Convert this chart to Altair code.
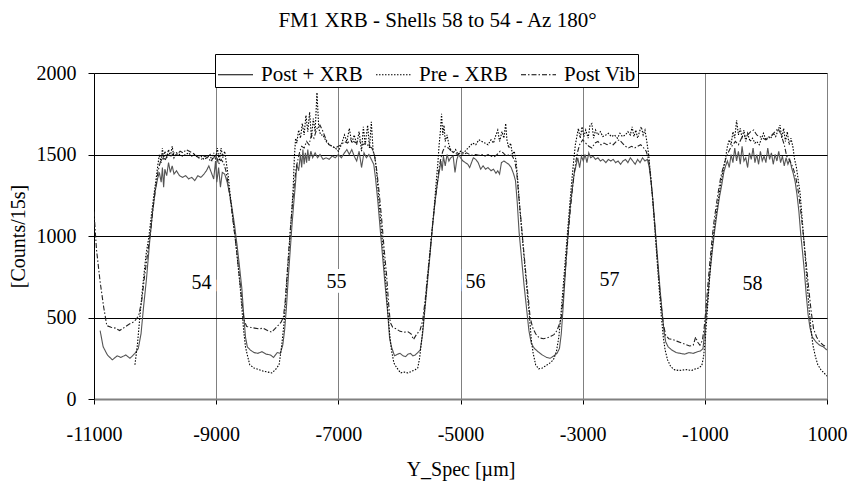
import altair as alt
import pandas as pd

TITLE = "FM1 XRB - Shells 58 to 54 - Az 180°"
X_TITLE = "Y_Spec [µm]"
Y_TITLE = "[Counts/15s]"
series_names = ["Post + XRB", "Pre - XRB", "Post Vib"]
series_colors = ["#555555", "#000000", "#222222"]
series_dashes = [[1, 0], [1.5, 1.5], [5, 2, 1.5, 2]]

x_ticks = [-11000, -9000, -7000, -5000, -3000, -1000, 1000]
y_ticks = [0, 500, 1000, 1500, 2000]

post_xrb_x = [-10900, -10850, -10780, -10700, -10620, -10560, -10480, -10410, -10330, -10275, -10230, -10190, -10140, -10090, -10040, -10000, -9960, -9930, -9900, -9880, -9860, -9840, -9810, -9780, -9750, -9720, -9690, -9650, -9600, -9550, -9500, -9450, -9400, -9350, -9300, -9250, -9200, -9160, -9120, -9080, -9040, -9010, -8990, -8960, -8930, -8900, -8860, -8820, -8780, -8740, -8700, -8660, -8620, -8580, -8550, -8520, -8490, -8440, -8380, -8320, -8250, -8180, -8110, -8060, -8000, -7950, -7910, -7880, -7850, -7820, -7790, -7760, -7730, -7700, -7680, -7650, -7620, -7600, -7580, -7560, -7540, -7520, -7500, -7480, -7450, -7420, -7380, -7340, -7300, -7250, -7200, -7150, -7100, -7050, -7000, -6950, -6900, -6860, -6820, -6780, -6740, -6700, -6660, -6620, -6580, -6540, -6500, -6460, -6420, -6390, -6350, -6310, -6270, -6230, -6190, -6160, -6130, -6080, -6030, -5990, -5940, -5900, -5860, -5820, -5780, -5740, -5700, -5660, -5620, -5580, -5540, -5500, -5460, -5420, -5380, -5350, -5320, -5300, -5280, -5250, -5220, -5190, -5160, -5120, -5090, -5060, -5030, -5000, -4960, -4920, -4880, -4850, -4820, -4790, -4750, -4710, -4670, -4630, -4590, -4550, -4500, -4460, -4420, -4390, -4360, -4330, -4290, -4250, -4210, -4170, -4130, -4100, -4070, -4040, -4000, -3960, -3920, -3880, -3840, -3790, -3730, -3660, -3590, -3530, -3470, -3420, -3380, -3350, -3320, -3290, -3260, -3230, -3200, -3170, -3140, -3110, -3080, -3050, -3020, -2990, -2960, -2930, -2900, -2870, -2830, -2790, -2750, -2710, -2670, -2620, -2580, -2540, -2500, -2460, -2420, -2380, -2340, -2300, -2260, -2220, -2180, -2140, -2100, -2060, -2020, -1980, -1940, -1910, -1880, -1850, -1820, -1790, -1760, -1730, -1700, -1670, -1640, -1600, -1540, -1470, -1400, -1330, -1260, -1190, -1120, -1070, -1030, -1000, -960, -920, -880, -840, -800, -760, -720, -690, -660, -630, -600, -570, -540, -510, -480, -450, -420, -390, -360, -330, -300, -270, -240, -210, -180, -150, -120, -90, -60, -30, 0, 30, 60, 90, 120, 150, 180, 210, 240, 270, 300, 330, 360, 390, 420, 450, 480, 510, 540, 570, 600, 630, 660, 690, 720, 760, 820, 880, 940, 1000]
post_xrb_y = [420, 320, 270, 240, 265, 255, 270, 250, 280, 310, 400, 560, 740, 960, 1150, 1270, 1350, 1390, 1330, 1420, 1300, 1410, 1370, 1450, 1390, 1430, 1380, 1400, 1370, 1360, 1370, 1350, 1360, 1340, 1370, 1360, 1380, 1400, 1430, 1390, 1350, 1460, 1330, 1420, 1300, 1390, 1380, 1330, 1260, 1170, 1070, 950, 820, 680, 520, 380, 320, 300, 285, 280, 290, 275, 270, 255, 285, 280, 330, 420, 560, 740, 900, 1060, 1200, 1330, 1440, 1400, 1500, 1420, 1530, 1440, 1510, 1450, 1530, 1460, 1520, 1480, 1510, 1480, 1500, 1470, 1480, 1470, 1490, 1480, 1500, 1480, 1510, 1530, 1500, 1530, 1490, 1460, 1520, 1420, 1510, 1480, 1500, 1470, 1440, 1350, 1200, 1020, 850, 680, 520, 370, 320, 265, 275, 280, 265, 260, 275, 280, 265, 270, 285, 300, 400, 560, 720, 880, 1050, 1200, 1320, 1390, 1460, 1400, 1490, 1430, 1500, 1460, 1480, 1490, 1390, 1470, 1500, 1480, 1460, 1450, 1440, 1420, 1450, 1480, 1470, 1450, 1410, 1430, 1410, 1420, 1400, 1410, 1385, 1400, 1380, 1450, 1460, 1450, 1440, 1420, 1380, 1340, 1200, 1020, 860, 700, 560, 420, 340, 310, 290, 270, 255, 250, 265, 280, 310, 400, 560, 740, 910, 1060, 1190, 1290, 1380, 1430, 1480, 1420, 1490, 1460, 1500, 1450, 1510, 1480, 1490, 1470, 1480, 1460, 1470, 1450, 1470, 1460, 1470, 1450, 1460, 1440, 1460, 1470, 1450, 1480, 1460, 1440, 1470, 1450, 1480, 1460, 1470, 1420, 1330, 1220, 1080, 940, 800, 660, 540, 420, 350, 320, 300, 285, 280, 275, 285, 280, 290, 295, 310, 420, 580, 760, 900, 1030, 1140, 1240, 1320, 1390, 1430, 1460, 1420, 1500, 1450, 1540, 1460, 1520, 1440, 1550, 1460, 1480, 1420, 1510, 1470, 1540, 1450, 1500, 1440, 1520, 1460, 1490, 1450, 1540, 1470, 1510, 1440, 1500, 1460, 1520, 1450, 1490, 1430, 1480, 1440, 1470, 1420, 1380, 1330, 1250, 1150, 1010, 900, 780, 640, 520, 440, 380, 350, 330, 320, 300]

pre_xrb_x = [-10330, -10290, -10250, -10200, -10150, -10100, -10060, -10020, -9990, -9960, -9930, -9900, -9880, -9860, -9840, -9810, -9780, -9750, -9720, -9690, -9650, -9600, -9550, -9500, -9450, -9400, -9350, -9300, -9250, -9200, -9150, -9100, -9070, -9040, -9010, -8980, -8950, -8920, -8890, -8860, -8830, -8800, -8770, -8730, -8690, -8650, -8610, -8580, -8550, -8520, -8490, -8450, -8380, -8300, -8220, -8150, -8090, -8030, -7970, -7930, -7890, -7860, -7830, -7800, -7770, -7740, -7720, -7700, -7680, -7650, -7620, -7590, -7560, -7530, -7500, -7470, -7440, -7410, -7380, -7350, -7320, -7290, -7250, -7200, -7150, -7100, -7050, -7000, -6950, -6900, -6860, -6820, -6780, -6740, -6700, -6660, -6620, -6590, -6560, -6520, -6490, -6460, -6430, -6400, -6370, -6340, -6300, -6260, -6220, -6190, -6160, -6130, -6090, -6040, -5980, -5920, -5860, -5800, -5740, -5700, -5670, -5630, -5590, -5550, -5510, -5470, -5430, -5400, -5370, -5350, -5330, -5310, -5290, -5270, -5250, -5220, -5190, -5160, -5120, -5080, -5040, -5000, -4950, -4900, -4850, -4800, -4750, -4700, -4650, -4600, -4550, -4500, -4460, -4420, -4390, -4360, -4320, -4290, -4260, -4240, -4210, -4180, -4150, -4120, -4090, -4060, -4030, -3990, -3950, -3910, -3870, -3840, -3810, -3770, -3720, -3660, -3600, -3540, -3480, -3430, -3390, -3360, -3330, -3300, -3270, -3240, -3210, -3180, -3150, -3120, -3090, -3070, -3040, -3010, -2980, -2950, -2910, -2880, -2850, -2820, -2790, -2750, -2710, -2670, -2620, -2580, -2530, -2480, -2430, -2390, -2350, -2300, -2260, -2220, -2190, -2160, -2130, -2100, -2070, -2040, -2010, -1980, -1950, -1920, -1890, -1860, -1830, -1800, -1770, -1740, -1710, -1680, -1650, -1610, -1560, -1500, -1430, -1360, -1290, -1220, -1150, -1100, -1050, -1020, -990, -960, -930, -900, -860, -820, -780, -740, -700, -660, -630, -600, -570, -540, -510, -480, -450, -420, -390, -360, -330, -300, -260, -220, -180, -150, -110, -70, -40, 0, 40, 80, 120, 160, 200, 230, 260, 290, 320, 350, 380, 410, 440, 470, 500, 530, 560, 590, 620, 650, 680, 710, 740, 770, 810, 850, 900, 950, 1000]
pre_xrb_y = [210, 330, 500, 700, 880, 1000, 1130, 1250, 1330, 1420, 1500, 1450, 1540, 1470, 1520, 1480, 1530, 1490, 1550, 1480, 1510, 1500, 1490, 1500, 1510, 1490, 1500, 1480, 1490, 1470, 1480, 1500, 1460, 1510, 1470, 1540, 1460, 1540, 1480, 1520, 1440, 1360, 1250, 1120, 990, 850, 700, 560, 420, 320, 270, 210, 190, 180, 170, 165, 160, 180, 210, 320, 460, 620, 790, 950, 1110, 1290, 1480, 1600, 1570, 1650, 1600, 1690, 1620, 1740, 1640, 1760, 1600, 1720, 1640, 1880, 1660, 1620, 1620, 1580, 1560, 1550, 1540, 1520, 1560, 1620, 1580, 1660, 1570, 1620, 1560, 1640, 1520, 1670, 1560, 1680, 1540, 1700, 1520, 1480, 1380, 1240, 1060, 880, 700, 540, 400, 300, 220, 190, 160, 165, 160, 170, 180, 190, 250, 380, 540, 700, 860, 1020, 1180, 1320, 1450, 1560, 1640, 1750, 1620, 1680, 1580, 1620, 1560, 1530, 1510, 1530, 1500, 1520, 1510, 1530, 1550, 1570, 1560, 1590, 1580, 1570, 1560, 1590, 1570, 1620, 1650, 1580, 1640, 1600, 1690, 1590, 1540, 1570, 1500, 1520, 1460, 1330, 1170, 1000, 830, 660, 500, 360, 280, 210, 185, 190, 205, 220, 240, 290, 380, 500, 640, 780, 920, 1060, 1200, 1330, 1450, 1560, 1620, 1660, 1600, 1670, 1610, 1650, 1600, 1680, 1690, 1600, 1650, 1620, 1640, 1610, 1620, 1630, 1610, 1620, 1600, 1630, 1610, 1620, 1640, 1620, 1670, 1610, 1650, 1600, 1640, 1670, 1620, 1650, 1580, 1500, 1380, 1250, 1100, 950, 790, 640, 500, 380, 300, 240, 200, 180, 175, 178, 180, 175, 185, 190, 205, 260, 380, 540, 700, 850, 1000, 1120, 1220, 1320, 1400, 1480, 1550, 1590, 1560, 1640, 1600, 1710, 1620, 1660, 1600, 1650, 1580, 1630, 1580, 1600, 1570, 1580, 1560, 1600, 1630, 1590, 1610, 1600, 1630, 1610, 1650, 1680, 1600, 1660, 1580, 1640, 1560, 1600, 1550, 1470, 1420, 1340, 1260, 1120, 980, 840, 680, 540, 420, 330, 260, 210, 180, 160, 140]

post_vib_x = [-11000, -10960, -10900, -10840, -10790, -10720, -10650, -10580, -10500, -10420, -10340, -10270, -10220, -10170, -10120, -10070, -10030, -9990, -9950, -9910, -9870, -9830, -9790, -9740, -9690, -9640, -9590, -9540, -9490, -9440, -9390, -9340, -9290, -9240, -9190, -9140, -9090, -9040, -9000, -8960, -8920, -8880, -8840, -8800, -8760, -8720, -8680, -8640, -8600, -8570, -8540, -8500, -8440, -8370, -8300, -8230, -8160, -8090, -8040, -7990, -7940, -7900, -7870, -7840, -7810, -7780, -7750, -7720, -7690, -7660, -7630, -7600, -7560, -7520, -7480, -7440, -7400, -7350, -7300, -7250, -7200, -7150, -7100, -7050, -7000, -6950, -6900, -6850, -6800, -6750, -6700, -6650, -6600, -6550, -6500, -6450, -6410, -6370, -6330, -6290, -6250, -6210, -6180, -6150, -6110, -6050, -5990, -5920, -5860, -5810, -5770, -5730, -5690, -5660, -5620, -5580, -5540, -5500, -5460, -5420, -5380, -5350, -5320, -5290, -5250, -5200, -5150, -5100, -5050, -5000, -4950, -4900, -4850, -4800, -4750, -4700, -4650, -4600, -4550, -4500, -4450, -4400, -4350, -4300, -4250, -4200, -4150, -4110, -4080, -4050, -4010, -3970, -3930, -3890, -3860, -3820, -3770, -3710, -3640, -3580, -3520, -3470, -3420, -3380, -3350, -3320, -3290, -3260, -3230, -3200, -3170, -3140, -3110, -3080, -3050, -3000, -2950, -2900, -2850, -2800, -2750, -2700, -2650, -2600, -2550, -2500, -2450, -2400, -2350, -2300, -2250, -2200, -2150, -2100, -2050, -2000, -1960, -1920, -1890, -1860, -1830, -1800, -1770, -1740, -1710, -1680, -1640, -1590, -1530, -1460, -1390, -1320, -1250, -1190, -1150, -1120, -1080, -1040, -1010, -980, -950, -920, -890, -860, -820, -780, -740, -700, -660, -620, -580, -540, -500, -450, -400, -350, -300, -250, -200, -150, -100, -50, 0, 50, 100, 150, 200, 250, 300, 340, 380, 420, 460, 500, 540, 580, 620, 660, 700, 740, 780, 830, 880, 940, 1000]
post_vib_y = [1150, 920, 720, 560, 450, 440, 435, 420, 440, 460, 475, 510, 600, 760, 900, 1040, 1180, 1300, 1400, 1460, 1480, 1470, 1500, 1490, 1510, 1500, 1520, 1510, 1530, 1520, 1510, 1500, 1480, 1470, 1490, 1480, 1460, 1480, 1500, 1440, 1470, 1450, 1400, 1310, 1200, 1080, 960, 820, 680, 560, 480, 445, 440, 435, 430, 435, 420, 410, 430, 450, 470, 500, 600, 760, 920, 1070, 1200, 1320, 1420, 1470, 1520, 1550, 1540, 1580, 1560, 1620, 1600, 1660, 1680, 1640, 1590, 1560, 1550, 1540, 1550, 1560, 1580, 1570, 1590, 1580, 1570, 1580, 1560, 1570, 1550, 1540, 1500, 1400, 1260, 1100, 920, 760, 600, 470, 440, 430, 415, 410, 412, 400, 365, 390, 410, 425, 480, 600, 760, 900, 1060, 1200, 1320, 1420, 1480, 1520, 1550, 1540, 1520, 1510, 1500, 1510, 1500, 1510, 1500, 1495, 1500, 1495, 1500, 1490, 1500, 1490, 1485, 1500, 1520, 1510, 1490, 1500, 1490, 1460, 1390, 1260, 1100, 930, 770, 620, 500, 440, 400, 375, 370, 375, 385, 395, 420, 460, 500, 620, 760, 900, 1040, 1170, 1280, 1380, 1460, 1520, 1560, 1590, 1570, 1550, 1540, 1570, 1580, 1560, 1570, 1560, 1570, 1560, 1580, 1590, 1570, 1550, 1540, 1550, 1540, 1550, 1560, 1540, 1520, 1470, 1380, 1260, 1120, 970, 820, 680, 560, 460, 390, 370, 365, 355, 345, 335, 325, 330, 380, 350, 330, 360, 440, 560, 700, 830, 950, 1060, 1170, 1270, 1360, 1420, 1470, 1510, 1540, 1560, 1580, 1560, 1600, 1610, 1620, 1640, 1650, 1620, 1610, 1600, 1590, 1600, 1620, 1640, 1660, 1620, 1560, 1490, 1470, 1440, 1400, 1340, 1250, 1120, 980, 830, 680, 540, 430, 380, 350, 330, 320]

shell_labels = ["54", "55", "56", "57", "58"]
shell_label_x = [-9240, -7030, -4755, -2560, -220]
shell_label_y = [712, 720, 718, 730, 705]

FONT = "Liberation Serif, Times New Roman, DejaVu Serif, serif"

rows = []
for name, xs, ys in [(series_names[0], post_xrb_x, post_xrb_y),
                     (series_names[1], pre_xrb_x, pre_xrb_y),
                     (series_names[2], post_vib_x, post_vib_y)]:
    for i, (xv, yv) in enumerate(zip(xs, ys)):
        rows.append({"series": name, "x": xv, "y": yv, "idx": i})
df = pd.DataFrame(rows)
labels_df = pd.DataFrame({"x": shell_label_x, "y": shell_label_y, "t": shell_labels})

x_scale = alt.Scale(domain=[-11000, 1000], nice=False, zero=False)
y_scale = alt.Scale(domain=[0, 2000], nice=False)

x_axis = alt.Axis(values=x_ticks, title=X_TITLE, grid=True, gridColor="#808080", gridWidth=1,
                  domainColor="#808080", domainWidth=2, tickColor="#000000", tickSize=5,
                  labelFont=FONT, labelFontSize=20, labelColor="#000000", labelPadding=20,
                  labelFlush=False, labelOverlap=False,
                  labelExpr="datum.value < 0 ? '-' + abs(datum.value) : '' + datum.value",
                  titleFont=FONT, titleFontSize=20, titleFontWeight="normal", titleColor="#000000",
                  titleY=70, titleBaseline="middle")
y_axis = alt.Axis(values=y_ticks, title=Y_TITLE, grid=True, gridColor="#000000", gridWidth=1,
                  domainColor="#000000", domainWidth=1, tickColor="#000000", tickSize=6,
                  labelFont=FONT, labelFontSize=20, labelColor="#000000", labelPadding=12,
                  labelFlush=False, labelOverlap=False,
                  labelExpr="'' + datum.value",
                  titleFont=FONT, titleFontSize=20, titleFontWeight="normal", titleColor="#000000",
                  titleX=-76, titleY=163, titleBaseline="middle")

dash_enc = alt.StrokeDash(
    "series:N",
    scale=alt.Scale(domain=series_names, range=series_dashes),
    legend=alt.Legend(title=None, orient="none", legendX=121, legendY=-19,
                      direction="horizontal", strokeColor="#000000",
                      fillColor="#ffffff", padding=2, symbolType="stroke",
                      symbolSize=1225, symbolStrokeWidth=1.2,
                      symbolStrokeColor="#000000", labelFont=FONT,
                      labelFontSize=21, labelColor="#000000", labelOffset=7,
                      columnPadding=10),
)

line_layers = []
for name, col in zip(series_names, series_colors):
    line_layers.append(
        alt.Chart(df).transform_filter(alt.datum.series == name)
        .mark_line(strokeWidth=1.1, clip=True, color=col)
        .encode(
            x=alt.X("x:Q", scale=x_scale, axis=x_axis),
            y=alt.Y("y:Q", scale=y_scale, axis=y_axis),
            strokeDash=dash_enc,
            order="idx:Q",
        )
    )

halo = alt.Chart(labels_df).mark_text(font=FONT, fontSize=20, color="#ffffff", stroke="#ffffff",
                                      strokeWidth=10).encode(
    x=alt.X("x:Q", scale=x_scale), y=alt.Y("y:Q", scale=y_scale), text="t:N")
txt = alt.Chart(labels_df).mark_text(font=FONT, fontSize=20, color="#000000").encode(
    x=alt.X("x:Q", scale=x_scale), y=alt.Y("y:Q", scale=y_scale), text="t:N")

chart = alt.layer(*line_layers, halo, txt).properties(
    width=733, height=326,
    title=alt.TitleParams(TITLE, font=FONT, fontSize=21, fontWeight="normal", color="#000000",
                          anchor="middle", dx=-23, dy=-19),
    autosize=alt.AutoSizeParams(type="none"),
    padding={"left": 86, "top": 65, "right": 30, "bottom": 84},
).configure_view(stroke="transparent")

chart.save("out.html", embed_options={"renderer": "svg", "actions": False})
